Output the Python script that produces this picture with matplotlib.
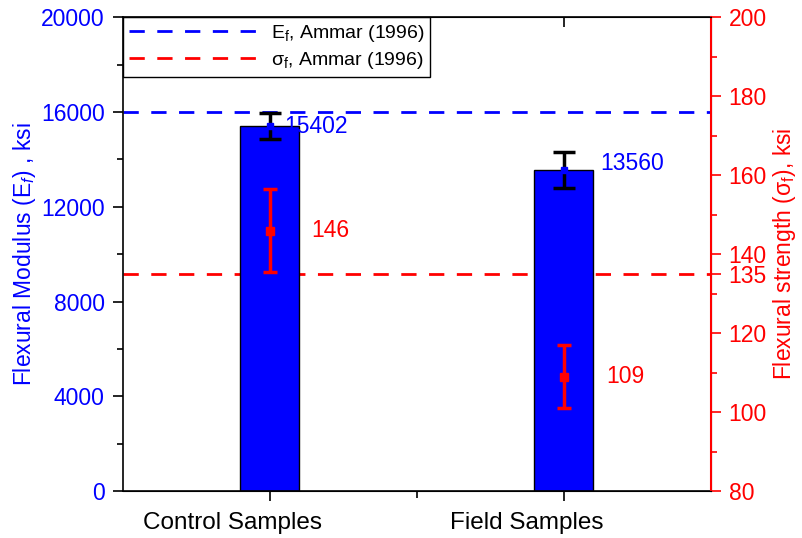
import matplotlib
matplotlib.use('Agg')
import matplotlib.pyplot as plt
import matplotlib.lines as mlines
import matplotlib.transforms as mtransforms

plt.rcParams['font.family'] = ['Liberation Sans', 'DejaVu Sans']
plt.rcParams['mathtext.fontset'] = 'custom'
plt.rcParams['mathtext.rm'] = 'Liberation Sans'
plt.rcParams['mathtext.it'] = 'Liberation Sans:italic'

# data
categories = ['Control Samples', 'Field Samples']
x_pos = [1, 2]
modulus = [15402, 13560]          # ksi
modulus_err = [550, 760]
strength = [146, 109]             # ksi
strength_err = [10.5, 8]
modulus_ref = 16000               # Ammar (1996)
strength_ref = 135                # Ammar (1996)

BLUE = '#0000ff'
RED = '#ff0000'
FS = 16.5

fig = plt.figure(figsize=(8.03, 5.38), dpi=100)
ax = fig.add_axes([0.153, 0.087, 0.732, 0.881])
ax2 = ax.twinx()

ax.set_xlim(0.5, 2.5)
ax.set_ylim(0, 20000)
ax2.set_ylim(80, 200)

# bars + modulus error bars
ax.bar(x_pos, modulus, width=0.2, color=BLUE, edgecolor='black', linewidth=1, zorder=2)
ax.errorbar(x_pos, modulus, yerr=modulus_err, fmt='s', color=BLUE, ms=5,
            ecolor='black', elinewidth=2.5, capsize=8, capthick=2.5, zorder=3)

# reference lines (red one uses the right-axis scale but sits behind the bars)
ax.axhline(modulus_ref, color=BLUE, lw=2, ls=(0, (5.5, 4.5)), zorder=1,
           label=r'E$_\mathregular{f}$, Ammar (1996)')
ax.plot([0.5, 2.5], [strength_ref, strength_ref], transform=ax2.transData,
        color=RED, lw=2, ls=(0, (5.5, 4.5)), zorder=1,
        label=r'σ$_\mathregular{f}$, Ammar (1996)')

# strength error bars on right axis
ax2.errorbar(x_pos, strength, yerr=strength_err, fmt='s', color=RED, ms=6,
             ecolor=RED, elinewidth=2.5, capsize=5, capthick=2.5, zorder=3)

# value labels
ax.text(1.05, modulus[0], str(modulus[0]), color=BLUE, fontsize=FS, va='center', ha='left')
ax.text(2.125, modulus[1] + 250, str(modulus[1]), color=BLUE, fontsize=FS, va='center', ha='left')
ax2.text(1.14, strength[0], str(strength[0]), color=RED, fontsize=FS, va='center', ha='left')
ax2.text(2.145, strength[1], str(strength[1]), color=RED, fontsize=FS, va='center', ha='left')

# x axis - labels sit a bit left of the ticks like in the original
ax.set_xticks(x_pos)
ax.set_xticklabels(categories, fontsize=17.5)
ax.set_xticks([1.5], minor=True)
ax.tick_params(axis='x', which='both', direction='out', top=True, length=7, width=1.2, pad=8)
ax.tick_params(axis='x', which='minor', length=5)
shift = mtransforms.ScaledTranslation(-0.37, 0, fig.dpi_scale_trans)
for lbl in ax.get_xticklabels():
    lbl.set_transform(lbl.get_transform() + shift)
# top ticks point inward, bottom ones outward
for t in ax.xaxis.get_major_ticks() + ax.xaxis.get_minor_ticks():
    t.tick2line.set_marker(mlines.TICKDOWN)

# left axis
ax.set_yticks(range(0, 20001, 4000))
ax.set_yticks(range(2000, 20000, 4000), minor=True)
ax.tick_params(axis='y', which='both', direction='out', colors='black', labelcolor=BLUE,
               labelsize=FS, length=7, width=1.2, pad=6)
ax.tick_params(axis='y', which='minor', length=4)
ax.set_ylabel(r'Flexural Modulus (E$_f$) , ksi', color=BLUE, fontsize=FS, labelpad=2)

# right axis
ax2.set_yticks([80, 100, 120, 135, 140, 160, 180, 200])
ax2.set_yticks([90, 110, 130, 150, 170, 190], minor=True)
ax2.tick_params(axis='y', which='both', direction='out', colors=RED, labelsize=FS,
                length=7, width=1.2, pad=6)
ax2.tick_params(axis='y', which='minor', length=4)
ax2.set_ylabel(r'Flexural strength (σ$_\mathregular{f}$), ksi', color=RED, fontsize=FS, labelpad=3)

for s in ['top', 'bottom', 'left']:
    ax.spines[s].set_linewidth(1.2)
ax2.spines['right'].set_color(RED)
ax2.spines['right'].set_linewidth(1.5)
ax2.spines['left'].set_visible(False)

leg = ax.legend(loc='upper left', borderaxespad=0, handlelength=6.8, fontsize=14,
                frameon=True, fancybox=False, edgecolor='black', framealpha=1,
                handletextpad=0.5, borderpad=0.3, labelspacing=0.3)
leg.get_frame().set_linewidth(1)

fig.savefig('out.png', dpi=100)
